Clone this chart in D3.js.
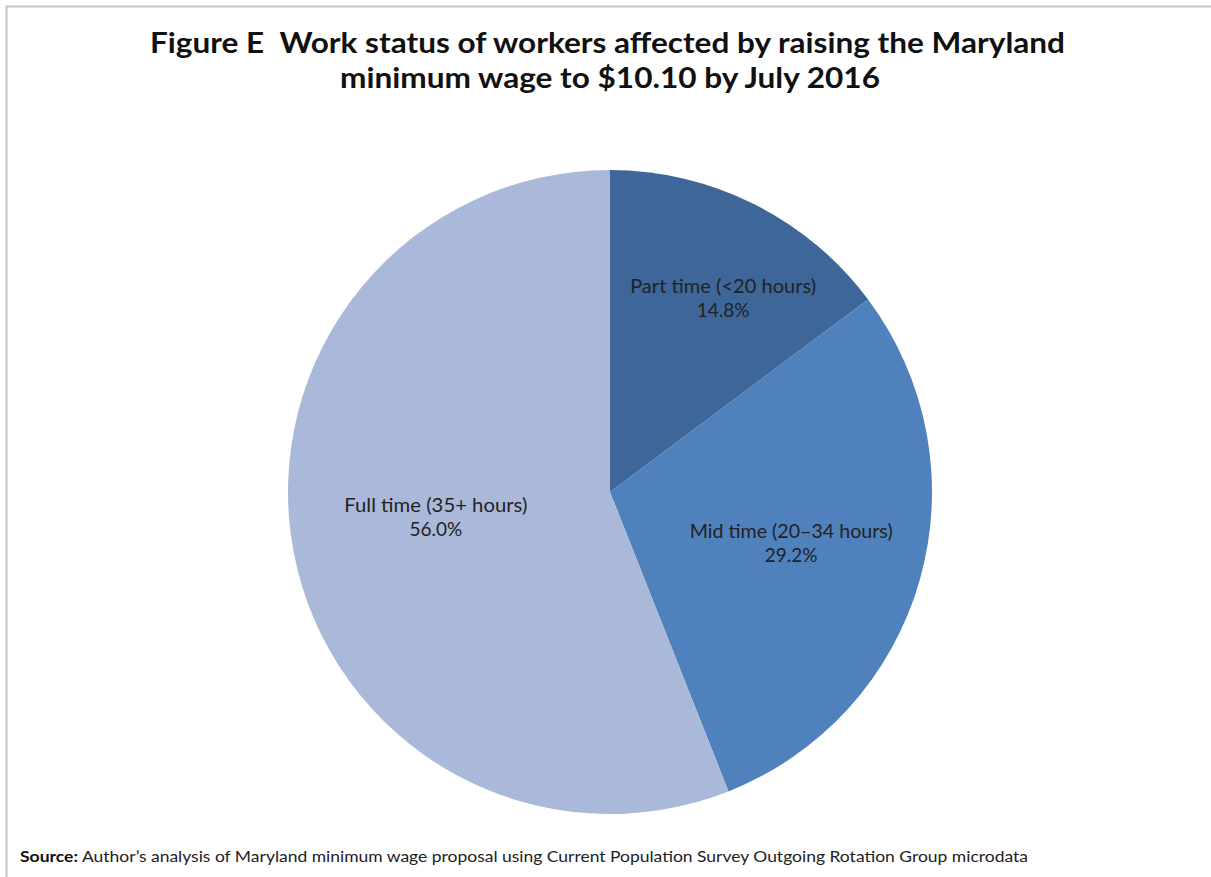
<!DOCTYPE html>
<html>
<head>
<meta charset="utf-8">
<script src="https://cdn.jsdelivr.net/npm/d3@7"></script>
<style>
  html, body { margin: 0; padding: 0; background: #fff; }
  svg { display: block; }
  text { white-space: pre; }
</style>
</head>
<body>
<svg id="chart" width="1211" height="877"></svg>
<script>
// Work status shares (percent of affected workers)
const categories = ["Part time (<20 hours)", "Mid time (20\u201334 hours)", "Full time (35+ hours)"];
const shares = [14.8, 29.2, 56.0];
const shareLabels = ["14.8%", "29.2%", "56.0%"];

// Styling / layout
const colors = ["#3e6699", "#4f81bd", "#aab9d9"];
const labelNudge = [[26.5, -20.5], [-4.7, -0.7], [15.6, -10.1]];
const labelWidths = [186, 203, 183];

const W = 1211, H = 877;
const cx = 610, cy = 492, R = 322;

const svg = d3.select("#chart");
svg.append("rect").attr("width", W).attr("height", H).attr("fill", "#fff");

// frame (top and left edges)
svg.append("line").attr("x1", 6).attr("y1", 6.5).attr("x2", W).attr("y2", 6.5)
  .attr("stroke", "#c4c4c4").attr("stroke-width", 2);
svg.append("line").attr("x1", 6.5).attr("y1", 6).attr("x2", 6.5).attr("y2", H)
  .attr("stroke", "#c4c4c4").attr("stroke-width", 2);

// title
const titleLines = [
  { text: "Figure E  Work status of workers affected by raising the Maryland", x: 607.5, y: 53, w: 915 },
  { text: "minimum wage to $10.10 by July 2016", x: 610, y: 88, w: 540 }
];
svg.selectAll("text.title").data(titleLines).enter().append("text")
  .attr("class", "title")
  .attr("x", d => d.x).attr("y", d => d.y)
  .attr("text-anchor", "middle")
  .attr("font-family", "Lato, 'Open Sans', sans-serif")
  .attr("font-weight", "bold")
  .attr("font-size", 29)
  .attr("fill", "#111")
  .attr("textLength", d => d.w)
  .attr("lengthAdjust", "spacingAndGlyphs")
  .text(d => d.text);

// pie
const pie = d3.pie().sort(null).value(d => d.v).startAngle(0).endAngle(2 * Math.PI);
const arcs = pie(shares.map((v, i) => ({ v, i })));
const arc = d3.arc().innerRadius(0).outerRadius(R);
const labelArc = d3.arc().innerRadius(R * 0.6).outerRadius(R * 0.6);

const g = svg.append("g").attr("transform", `translate(${cx},${cy})`);
g.selectAll("path").data(arcs).enter().append("path")
  .attr("d", arc)
  .attr("fill", d => colors[d.data.i]);

const lbl = g.selectAll("g.lbl").data(arcs).enter().append("g")
  .attr("class", "lbl")
  .attr("transform", d => {
    const c = labelArc.centroid(d);
    const n = labelNudge[d.data.i];
    return `translate(${c[0] + n[0]},${c[1] + n[1]})`;
  });
lbl.append("text")
  .attr("y", -6)
  .attr("text-anchor", "middle")
  .attr("font-family", "Lato, 'Open Sans', sans-serif")
  .attr("font-size", 19)
  .attr("fill", "#222")
  .attr("textLength", d => labelWidths[d.data.i])
  .attr("lengthAdjust", "spacingAndGlyphs")
  .text(d => categories[d.data.i]);
lbl.append("text")
  .attr("y", 18)
  .attr("text-anchor", "middle")
  .attr("font-family", "Lato, 'Open Sans', sans-serif")
  .attr("font-size", 19)
  .attr("fill", "#222")
  .text(d => shareLabels[d.data.i]);

// source note
svg.append("text")
  .attr("x", 20).attr("y", 862)
  .attr("font-family", "Lato, 'Open Sans', sans-serif")
  .attr("font-weight", "bold")
  .attr("font-size", 15)
  .attr("fill", "#111")
  .attr("textLength", 58)
  .attr("lengthAdjust", "spacingAndGlyphs")
  .text("Source:");
svg.append("text")
  .attr("x", 82).attr("y", 862)
  .attr("font-family", "Lato, 'Open Sans', sans-serif")
  .attr("font-size", 15)
  .attr("fill", "#222")
  .attr("textLength", 946)
  .attr("lengthAdjust", "spacingAndGlyphs")
  .text("Author\u2019s analysis of Maryland minimum wage proposal using Current Population Survey Outgoing Rotation Group microdata");
</script>
</body>
</html>
